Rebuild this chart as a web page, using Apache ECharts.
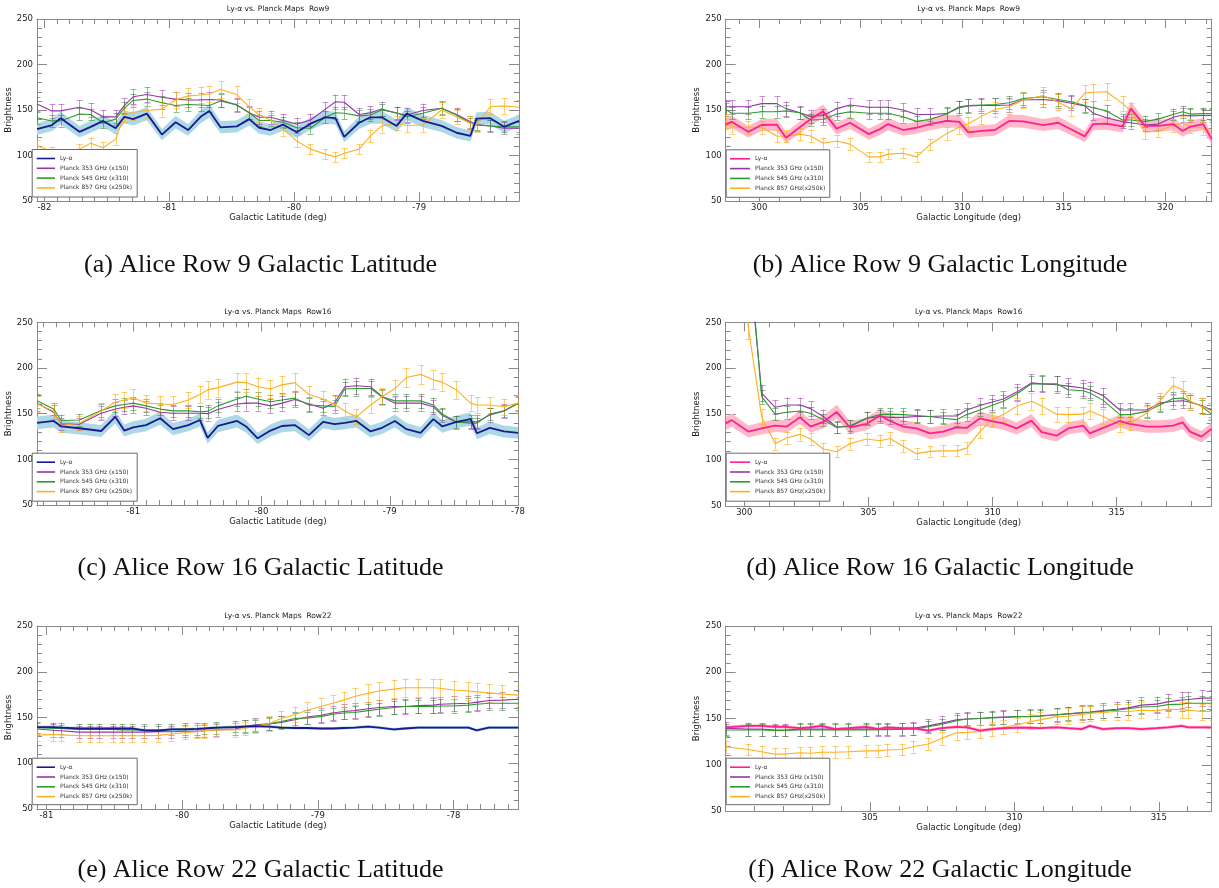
<!DOCTYPE html>
<html><head><meta charset="utf-8">
<script src="https://cdn.jsdelivr.net/npm/echarts@6/dist/echarts.min.js"></script>
<style>html,body{margin:0;padding:0;background:#fff}#c{width:1219px;height:888px}</style>
</head><body><div id="c"></div>
<script>
// ---------------- DATA ----------------
const yTicks = [50, 100, 150, 200, 250];
const aXTicks = [-82, -81, -80, -79];
const bXTicks = [300, 305, 310, 315, 320];
const cXTicks = [-81, -80, -79, -78];
const dXTicks = [300, 305, 310, 315];
const eXTicks = [-81, -80, -79, -78];
const fXTicks = [305, 310, 315];

// (a) Row 9, latitude
const aX = [-82.06,-81.94,-81.87,-81.72,-81.63,-81.53,-81.43,-81.36,-81.29,-81.18,-81.06,-80.95,-80.85,-80.75,-80.68,-80.59,-80.46,-80.36,-80.28,-80.19,-80.09,-79.98,-79.87,-79.75,-79.67,-79.60,-79.48,-79.39,-79.30,-79.18,-79.10,-78.97,-78.82,-78.70,-78.59,-78.54,-78.43,-78.32,-78.20];
const aLya = [129,133.5,141,126,131.5,138,130,142.5,140,146,123,136.5,128,142.5,149,131,132,140,130.5,128,134,125.5,135,142,141,120.5,136,142,142,132.5,146,138,132.5,125,121.5,140.5,141,131.5,138];
const a353 = [156.5,149,149,153,150,142.5,142.5,155,164.5,167,164,162,161,161,161.5,161,155.5,147,142,142,138.5,134.5,139,151,159,158.5,145,147,151,146.5,144.5,149.5,152,145,137,134,132.5,130,130];
const a545 = [141.5,138,138,145.5,145,136,140,152,160.5,162,158,155,156,155.5,155,160,155.5,147,138.5,138.5,136.5,130.5,130,142,147,146.5,143.5,144.5,150,147,142.5,146.5,152,144.5,135.5,133.5,132.5,131.5,131.5];
const a857 = [111,104,101,107,113.5,108.5,118,144.5,147.5,149.5,151,161,165.5,166.5,167.5,172.5,167,153.5,144.5,139,129,116,107,101.5,98.5,102.5,107,121.5,132.5,135.5,133,133.5,150,142.5,135.5,133.5,153.5,154.5,153];

// (b) Row 9, longitude
const bX = [298.35,298.64,299.46,300.12,300.86,301.32,302.00,302.53,303.15,303.81,304.47,305.40,305.95,306.35,307.09,307.75,308.41,309.23,309.85,310.30,310.95,311.61,312.32,313.00,313.99,314.73,315.38,316.04,316.45,317.11,317.90,318.31,319.00,319.66,320.39,320.86,321.22,321.87,322.29];
const bLya = [134,137,126,133.5,134,119.5,131,140,148.5,129.5,136,123.5,129,134.5,128,130.5,134.5,138,137,125.5,127,128,138,137.5,133.5,136,128.5,121,134.5,135,132,151.5,132.5,132.5,134.5,127,131.5,134.5,118];
const b353 = [153.5,153.5,153.5,157,157,151.5,147,143,144,151.5,155.5,153,153,153,150,145,145,146,152.5,154.5,155,155,155.5,161,161.5,160,157.5,154.5,146.5,141.5,137,136,133.5,134.5,142,144.5,143.5,144,144];
const b545 = [150.5,146.5,146.5,148,148,149,147,139,139.5,145.5,148,146.5,146.5,146.5,142.5,137.5,139.5,145.5,153.5,155,155.5,156,158,162.5,164.5,161.5,159,155,152.5,149,139,139,137.5,140,145,148,145.5,146,146];
const b857 = [138,131,131,131,121.5,121,123.5,121.5,113.5,116,112.5,98.5,98.5,101.5,102.5,98.5,112,124,131,135,143,150.5,153.5,161,166,158.5,151.5,168.5,169.5,170,157,149,125.5,127,133,135.5,132.5,130,127];

// (c) Row 16, latitude
const cX = [-81.75,-81.62,-81.56,-81.42,-81.25,-81.14,-81.07,-81.00,-80.90,-80.79,-80.69,-80.57,-80.48,-80.42,-80.34,-80.19,-80.12,-80.03,-79.93,-79.84,-79.74,-79.63,-79.52,-79.43,-79.35,-79.26,-79.15,-79.06,-78.96,-78.87,-78.76,-78.66,-78.59,-78.48,-78.37,-78.32,-78.22,-78.11,-78.00];
const cLya = [140,142,136,134,131,146.5,131.5,135,137.5,145,133,137.5,143,123.5,136.5,142,136,123,131.5,136.5,137.5,126.5,141,138.5,140,142,130.5,134.5,142,133,129,144,136,141,144,128.5,134.5,130.5,129];
const c353 = [161.5,151.5,138.5,138.5,150.5,155,157,158.5,156,151.5,150.5,150.5,150.5,150,154.5,160.5,161.5,161.5,158.5,161.5,165.5,160.5,156,162,179.5,180.5,179.5,168.5,161.5,161.5,161.5,157.5,148,140.5,141,141,148.5,153,161.5];
const c545 = [164,155,142.5,143,153.5,158.5,160,161.5,158.5,155,153,153,152,152.5,158.5,166,169,166,163,165,167,159.5,158.5,158,177,177.5,177.5,168.5,164,164,164,159.5,149.5,141,139.5,139.5,149.5,153,161.5];
const c857 = [160.5,153,137,139.5,153,162.5,165,167.5,161.5,160.5,160,165,171,176,178.5,184.5,184,179.5,177,181.5,184,171,166,160,153,146.5,159.5,168.5,177.5,189.5,193,187,184.5,176,161.5,159.5,159.5,157.5,161.5];

// (d) Row 16, longitude
const dX = [299.25,299.49,300.16,300.70,301.24,301.71,302.24,302.67,303.18,303.72,304.26,304.93,305.47,305.87,306.40,306.94,307.48,308.01,308.55,308.96,309.49,309.96,310.43,310.97,311.57,311.98,312.58,313.05,313.65,313.92,314.46,315.13,315.53,316.21,316.74,317.28,317.66,317.95,318.42,318.82];
const dLya = [140,143.5,131,134.5,137.5,136.5,146.5,136.5,141.5,152.5,135.5,139.5,148.5,142.5,136.5,134.5,129,131,135.5,135,145.5,142.5,140,134.5,143,130.5,126.5,134.5,137.5,129,135,142.5,139.5,136.5,136.5,137.5,141,131,125.5,134];
const d353 = [420,400,327,173,157.5,160,160,156,147.5,136,136.5,145.5,147.5,146.5,146.5,147.5,147.5,148,148,154.5,159.5,163,166.5,174,184,183,182,180.5,178.5,176.5,170,154.5,154.5,154.5,162,164,164.5,163,159.5,154.5];
const d545 = [440,420,340,169,150,152,153.5,151,144,135.5,137.5,145.5,149.5,150,149.5,148.5,147.5,145.5,144,149.5,154.5,159.5,164,172,183,183,183,176.5,175.5,173,165,149.5,149.5,153,160,167,167.5,164,158.5,150];
const d857 = [460,430,245,147,118,124,128,123,112,109,118,123,121,123.5,115,107,109.5,110,110,113,131,143.5,149.5,158.5,164,159,150,149.5,150,153.5,147.5,138.5,140,151,164.5,181,176.5,164,158.5,153.5];

// (e) Row 22, latitude
const eX = [-81.07,-80.95,-80.89,-80.76,-80.68,-80.61,-80.51,-80.44,-80.37,-80.28,-80.18,-80.08,-79.98,-79.89,-79.84,-79.75,-79.61,-79.54,-79.46,-79.36,-79.27,-79.17,-79.08,-78.98,-78.89,-78.81,-78.73,-78.63,-78.55,-78.44,-78.36,-78.26,-78.15,-78.10,-78.00,-77.89,-77.83,-77.74,-77.64,-77.52];
const eLya = [139.5,139.5,139,138,138,138,138,138,138,136,135.5,137,137,137.5,138,139,139.5,140,140.5,140,139,138.5,138.5,138,138,138.5,139,140,139,137,138,139,139,139,139,139,136,139,139,139];
const e353 = [137.5,136,135.5,134,134,134,134,134,134,134,134.5,134.5,135,135,135.5,136.5,137.5,140,142,143,144.5,147.5,150.5,152.5,155,156.5,157.5,159.5,161,162,162,163,163.5,164.5,165,165.5,166.5,168.5,169,170];
const e545 = [139,138,138,137,137,137,137,136.5,136.5,136.5,136.5,137,137.5,137.5,138,138.5,140,140.5,141,143,145.5,149,149.5,151,153.5,155,155.5,157.5,159,161,162,162,162,162.5,162.5,163.5,164.5,165.5,165.5,165.5];
const e857 = [131,131.5,131,130,130,130,130,130,130,130,130.5,132,133.5,134.5,135.5,136.5,136.5,138,140.5,143.5,149,153,158,162,165.5,169,173,176.5,179,181,182.5,182.5,182.5,182,180,179,178,177,175.5,174.5];

// (f) Row 22, longitude
const fX = [300.01,300.79,301.25,301.71,302.06,302.58,302.92,303.33,303.79,304.25,304.88,305.29,305.58,306.10,306.50,307.02,307.48,308.00,308.35,308.81,309.21,309.61,310.08,310.54,310.88,311.46,311.86,312.33,312.61,313.07,313.54,313.94,314.40,314.92,315.32,315.79,316.02,316.49,316.83];
const fLya = [140.5,142,142,141,141,139.5,140.5,142,138.5,139.5,141,138.5,140.5,139.5,139.5,137,139.5,141,140.5,137,138.5,139.5,140,140,139.5,140.5,139.5,138.5,142,138.5,139.5,139.5,138.5,139.5,140.5,142,140.5,140.5,140.5];
const f353 = [139.5,138.5,138.5,137.5,137.5,138.5,138.5,138.5,138.5,138.5,138.5,138.5,138.5,138.5,139.5,142,145,148.5,149.5,150,151,151.5,152,152.5,153,154,155,156.5,157,158.5,160,161.5,164.5,165.5,168,170,170.5,172,172];
const f545 = [137.5,137.5,137.5,137,137,137.5,137.5,137.5,137.5,137.5,137.5,138,138,138.5,138.5,141,143.5,147.5,149.5,150,150.5,151,152,152,152.5,154,155,156,156.5,158,159,160.5,162.5,163,165,165.5,166.5,166.5,166.5];
const f857 = [119.5,116.5,114,111.5,111.5,113,112.5,113.5,113.5,114,115,115,116,116.5,119.5,122.5,128.5,134.5,135,136,138.5,140.5,143,146.5,148.5,152,152.5,154.5,155.5,156.5,157.5,157.5,159,158.5,160,159.5,159,157.5,157.5];

// ---------------- LAYOUT / STYLE ----------------
const FONT = 'DejaVu Sans';
const AXC = '#8a8a8a';
const TXT = '#222';
const C353 = '#9933aa', C545 = '#2e9b2e', C857 = '#ffb020';
const E353 = 'rgba(160,60,175,0.55)', E545 = 'rgba(40,140,40,0.55)', E857 = 'rgba(255,176,32,0.65)';
const FR353 = 0.05, FR545 = 0.045, FR857 = 0.055;

const panels = [
  {id:'a', x:aX, lya:aLya, p353:a353, p545:a545, p857:a857, xr:[-82.06,-78.2], maj:aXTicks, step:0.1,
   g:[37,19,482,182], row:'Row9', xname:'Galactic Latitude (deg)', side:'L', bandF:0.05, box:[31.7,149,105,47.5],
   cap:'(a) Alice Row 9 Galactic Latitude', capXY:[260.5,265]},
  {id:'b', x:bX, lya:bLya, p353:b353, p545:b545, p857:b857, xr:[298.35,322.29], maj:bXTicks, step:1,
   g:[725.7,19,486,182], row:'Row9', xname:'Galactic Longitude (deg)', side:'R', bandF:0.05, box:[725.7,149.3,103.6,47.5],
   cap:'(b) Alice Row 9 Galactic Longitude', capXY:[940,265]},
  {id:'c', x:cX, lya:cLya, p353:c353, p545:c545, p857:c857, xr:[-81.75,-77.995], maj:cXTicks, step:0.1,
   g:[37,322.3,481.7,182.7], row:'Row16', xname:'Galactic Latitude (deg)', side:'L', bandF:0.05, box:[31.7,452.7,105,48],
   cap:'(c) Alice Row 16 Galactic Latitude', capXY:[260.5,568]},
  {id:'d', x:dX, lya:dLya, p353:d353, p545:d545, p857:d857, xr:[299.25,318.83], maj:dXTicks, step:1,
   g:[725.7,322.3,486,183.7], row:'Row16', xname:'Galactic Longitude (deg)', side:'R', bandF:0.05, box:[725.7,452.7,103.6,48],
   cap:'(d) Alice Row 16 Galactic Longitude', capXY:[940,568]},
  {id:'e', x:eX, lya:eLya, p353:e353, p545:e545, p857:e857, xr:[-81.07,-77.52], maj:eXTicks, step:0.1,
   g:[37,626,481.7,183], row:'Row22', xname:'Galactic Latitude (deg)', side:'L', bandF:0.012, box:[31.7,757.7,105,46.5],
   cap:'(e) Alice Row 22 Galactic Latitude', capXY:[260.5,870]},
  {id:'f', x:fX, lya:fLya, p353:f353, p545:f545, p857:f857, xr:[300.01,316.83], maj:fXTicks, step:1,
   g:[725.7,626,486,185], row:'Row22', xname:'Galactic Longitude (deg)', side:'R', bandF:0.012, box:[725.7,757.7,103.6,46.5],
   cap:'(f) Alice Row 22 Galactic Longitude', capXY:[940,870]}
];

function minorList(min, max, step) {
  const out = [];
  for (let k = Math.ceil(min / step - 1e-6); k * step <= max + 1e-6; k++) out.push(+(k * step).toFixed(4));
  return out;
}
const yMinor = minorList(50, 250, 10);

const grid = [], xAxis = [], yAxis = [], series = [], legend = [], graphic = [];

function clipRect(params) {
  const cs = params.coordSys;
  return {type:'rect', shape:{x:cs.x, y:cs.y, width:cs.width, height:cs.height}};
}

panels.forEach((p, i) => {
  const [gl, gt, gw, gh] = p.g;
  grid.push({left:gl, top:gt, width:gw, height:gh, containLabel:false});
  const xMinor = minorList(p.xr[0], p.xr[1], p.step);
  const baseX = {type:'value', gridIndex:i, min:p.xr[0], max:p.xr[1], splitLine:{show:false}, minorTick:{show:false}, minorSplitLine:{show:false}};
  const baseY = {type:'value', gridIndex:i, min:50, max:250, splitLine:{show:false}, minorTick:{show:false}, minorSplitLine:{show:false}};
  const line = show => ({show, onZero:false, lineStyle:{color:AXC, width:1}});
  const tick = (vals, len) => ({show:true, inside:true, length:len, customValues:vals, lineStyle:{color:AXC, width:1}});
  xAxis.push(Object.assign({}, baseX, {position:'bottom', axisLine:line(true), axisTick:tick(p.maj, 9),
    axisLabel:{show:true, customValues:p.maj, showMinLabel:true, showMaxLabel:true, margin:2, fontSize:8.5, fontFamily:FONT, color:TXT},
    name:p.xname, nameLocation:'middle', nameGap:8.5, nameTextStyle:{fontSize:8.5, fontFamily:FONT, color:TXT}}));
  xAxis.push(Object.assign({}, baseX, {position:'bottom', axisLine:line(false), axisTick:tick(xMinor, 5), axisLabel:{show:false}}));
  xAxis.push(Object.assign({}, baseX, {position:'top', axisLine:line(true), axisTick:tick(p.maj, 9), axisLabel:{show:false}}));
  xAxis.push(Object.assign({}, baseX, {position:'top', axisLine:line(false), axisTick:tick(xMinor, 5), axisLabel:{show:false}}));
  yAxis.push(Object.assign({}, baseY, {position:'left', axisLine:line(true), axisTick:tick(yTicks, 10),
    axisLabel:{show:true, customValues:yTicks, showMinLabel:true, showMaxLabel:true, margin:4, fontSize:8.5, fontFamily:FONT, color:TXT},
    name:'Brightness', nameLocation:'middle', nameGap:21, nameTextStyle:{fontSize:8.5, fontFamily:FONT, color:TXT}}));
  yAxis.push(Object.assign({}, baseY, {position:'left', axisLine:line(false), axisTick:tick(yMinor, 5), axisLabel:{show:false}}));
  yAxis.push(Object.assign({}, baseY, {position:'right', axisLine:line(true), axisTick:tick(yTicks, 10), axisLabel:{show:false}}));
  yAxis.push(Object.assign({}, baseY, {position:'right', axisLine:line(false), axisTick:tick(yMinor, 5), axisLabel:{show:false}}));

  const xi = 4 * i, yi = 4 * i;
  const lyaColor = p.side === 'L' ? '#1a1a8f' : '#ff1f8f';
  const bandColor = p.side === 'L' ? '#add8e6' : '#ffb9c9';
  const n857 = p.side === 'L' ? 'Planck 857 GHz (x250k)' : 'Planck 857 GHz(x250k)';
  const names = ['Ly-α', 'Planck 353 GHz (x150)', 'Planck 545 GHz (x310)', n857].map(n => p.id + '|' + n);

  series.push({type:'custom', name:p.id + '|band', xAxisIndex:xi, yAxisIndex:yi, z:1, silent:true,
    data:p.x.map((x, k) => [x, p.lya[k]]), encode:{x:0, y:1},
    renderItem:(params, api) => {
      if (params.dataIndex !== 0) return null;
      const up = [], dn = [];
      p.x.forEach((x, k) => {
        up.push(api.coord([x, p.lya[k] * (1 + p.bandF)]));
        dn.push(api.coord([x, p.lya[k] * (1 - p.bandF)]));
      });
      return {type:'polygon', shape:{points:up.concat(dn.reverse())}, style:{fill:bandColor}, clipPath:clipRect(params)};
    }});

  [[p.p353, FR353, E353], [p.p545, FR545, E545], [p.p857, FR857, E857]].forEach(([vals, fr, col], j) => {
    series.push({type:'custom', name:p.id + '|err' + j, xAxisIndex:xi, yAxisIndex:yi, z:2, silent:true,
      data:p.x.map((x, k) => [x, vals[k] * (1 - fr), vals[k] * (1 + fr)]), encode:{x:0, y:[1, 2]},
      renderItem:(params, api) => {
        const x = api.value(0);
        const lo = api.coord([x, api.value(1)]), hi = api.coord([x, api.value(2)]);
        const w = 3, cx = Math.round(lo[0]) + 0.5;
        const st = {stroke:col, lineWidth:1};
        return {type:'group', clipPath:clipRect(params), children:[
          {type:'line', shape:{x1:cx, y1:lo[1], x2:cx, y2:hi[1]}, style:st},
          {type:'line', shape:{x1:cx - w, y1:Math.round(lo[1]) + 0.5, x2:cx + w, y2:Math.round(lo[1]) + 0.5}, style:st},
          {type:'line', shape:{x1:cx - w, y1:Math.round(hi[1]) + 0.5, x2:cx + w, y2:Math.round(hi[1]) + 0.5}, style:st}
        ]};
      }});
  });

  const mk = (name, vals, color, width, z) => ({type:'line', name, xAxisIndex:xi, yAxisIndex:yi, z,
    data:p.x.map((x, k) => [x, vals[k]]), showSymbol:false, symbol:'none', clip:true, silent:true,
    color, lineStyle:{color, width}, itemStyle:{color}, animation:false});
  series.push(mk(names[1], p.p353, C353, 1.1, 3));
  series.push(mk(names[2], p.p545, C545, 1.1, 3));
  series.push(mk(names[3], p.p857, C857, 1.1, 3));
  series.push(mk(names[0], p.lya, lyaColor, 1.8, 4));

  const [bx, by, bw, bh] = p.box;
  graphic.push({type:'rect', z:50, shape:{x:bx + 0.5, y:by + 0.5, width:bw, height:bh}, style:{fill:'#fff', stroke:'#6a6a6a', lineWidth:1}});
  const iw = p.side === 'L' ? 18.3 : 20;
  const il = p.side === 'L' ? bx + 5 : bx + 4.3;
  legend.push({orient:'vertical', left:il, top:by + 5.5, padding:0, itemWidth:iw, itemHeight:1.6, itemGap:1.8,
    icon:'rect', data:names, selectedMode:false, z:60,
    formatter:n => n.split('|')[1],
    textStyle:{fontSize:6, fontFamily:FONT, color:'#333', lineHeight:8}});

  graphic.push({type:'text', z:50, x:gl + gw / 2, y:gt - 9.8, style:{text:'Ly-α vs. Planck Maps  ' + p.row,
    fontSize:7.5, fontFamily:FONT, fill:TXT, textAlign:'center', textVerticalAlign:'middle', verticalAlign:'middle'}});
  graphic.push({type:'text', z:50, x:p.capXY[0], y:p.capXY[1], style:{text:p.cap,
    fontSize:26, fontFamily:'Liberation Serif', fill:'#111', textAlign:'center', textVerticalAlign:'middle', verticalAlign:'middle'}});
});

const chart = echarts.init(document.getElementById('c'), null, {renderer:'canvas', width:1219, height:888});
chart.setOption({animation:false, backgroundColor:'#fff', grid, xAxis, yAxis, series, legend, graphic});
</script>
</body></html>
